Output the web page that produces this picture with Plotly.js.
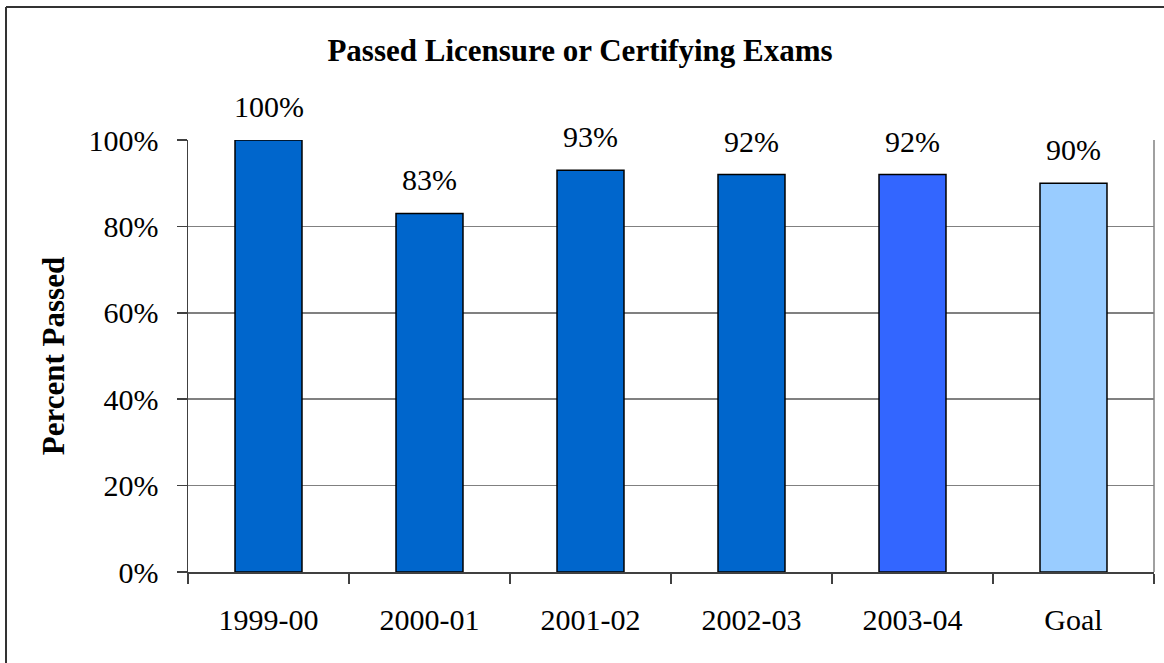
<!DOCTYPE html>
<html>
<head>
<meta charset="utf-8">
<script src="https://cdn.plot.ly/plotly-3.0.1.min.js"></script>
<style>
  html, body { margin: 0; padding: 0; background: #ffffff; }
  #chart { width: 1164px; height: 663px; }
</style>
</head>
<body>
<div id="chart"></div>
<script>
// ---- data ----
const categories = ["1999-00", "2000-01", "2001-02", "2002-03", "2003-04", "Goal"];
const percentPassed = [1.00, 0.83, 0.93, 0.92, 0.92, 0.90];
const valueLabels = ["100%", "83%", "93%", "92%", "92%", "90%"];
const barColors = ["#0066CC", "#0066CC", "#0066CC", "#0066CC", "#3366FF", "#99CCFF"];
const yTickValues = [0, 0.2, 0.4, 0.6, 0.8, 1.0];
const yTickLabels = ["0%", "20%", "40%", "60%", "80%", "100%"];

const serif = "Liberation Serif, Times New Roman, serif";

const trace = {
  type: "bar",
  x: categories,
  y: percentPassed,
  marker: { color: barColors, line: { color: "#000000", width: 1.5 } },
  hoverinfo: "x+y"
};

const annotations = categories.map((c, i) => ({
  x: c, y: percentPassed[i], xref: "x", yref: "y",
  text: valueLabels[i], showarrow: false,
  xanchor: "center", yanchor: "bottom", yshift: 15,
  font: { family: serif, size: 30, color: "#000000" }
}));

const frame = "#333333";
const shapes = [
  // right border of plot area
  { type: "line", xref: "paper", yref: "paper", x0: 1, x1: 1, y0: 0, y1: 1,
    line: { color: "#808080", width: 1.5 } },
  // outer chart frame (top and left)
  { type: "line", xref: "paper", yref: "paper", x0: -0.1884, x1: 1.02, y0: 1.3079, y1: 1.3079,
    line: { color: frame, width: 2 } },
  { type: "line", xref: "paper", yref: "paper", x0: -0.1884, x1: -0.1884, y0: -0.22, y1: 1.3079,
    line: { color: frame, width: 2 } }
];

const layout = {
  width: 1164, height: 663,
  margin: { l: 188, r: 10, t: 140, b: 91 },
  paper_bgcolor: "#ffffff", plot_bgcolor: "#ffffff",
  showlegend: false,
  bargap: 0.584,
  title: {
    text: "<b>Passed Licensure or Certifying Exams</b>",
    font: { family: serif, size: 31, color: "#000000" },
    x: 580 / 1164, xanchor: "center",
    y: 1 - 50 / 663, yanchor: "middle", yref: "container"
  },
  xaxis: {
    type: "category",
    showgrid: false,
    showline: true, linecolor: "#404040", linewidth: 1.5,
    ticks: "outside", tickson: "boundaries", ticklen: 10, tickcolor: "#404040", tickwidth: 1.5,
    ticklabelstandoff: 20,
    tickfont: { family: serif, size: 30, color: "#000000" },
    fixedrange: true
  },
  yaxis: {
    range: [0, 1],
    tickvals: yTickValues, ticktext: yTickLabels,
    showgrid: true, gridcolor: "#808080", gridwidth: 1.5,
    zeroline: false,
    showline: true, linecolor: "#404040", linewidth: 1.5,
    ticks: "outside", ticklen: 10, tickcolor: "#404040", tickwidth: 1.5,
    ticklabelstandoff: 12,
    tickfont: { family: serif, size: 30, color: "#000000" },
    title: {
      text: "<b>Percent Passed</b>",
      font: { family: serif, size: 31, color: "#000000" },
      standoff: 14
    },
    fixedrange: true
  },
  annotations: annotations,
  shapes: shapes
};

Plotly.newPlot("chart", [trace], layout, { displayModeBar: false, staticPlot: true });
</script>
</body>
</html>
